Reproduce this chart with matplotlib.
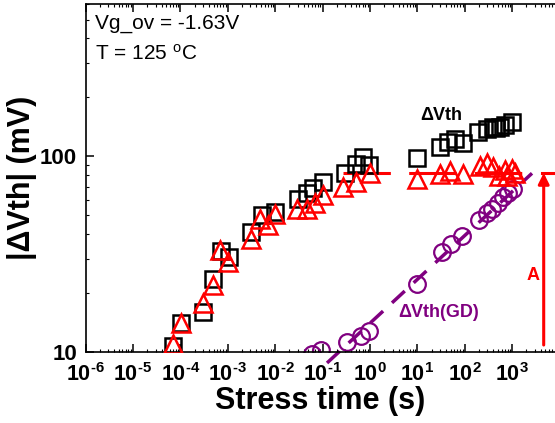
import math
import matplotlib
matplotlib.use("Agg")
import matplotlib.pyplot as plt
from matplotlib.ticker import LogLocator, FuncFormatter, NullFormatter

plt.rcParams['font.family'] = ['Liberation Sans', 'DejaVu Sans']
plt.rcParams['mathtext.fontset'] = 'custom'
plt.rcParams['mathtext.rm'] = 'Liberation Sans'
plt.rcParams['mathtext.bf'] = 'Liberation Sans:bold'
plt.rcParams['mathtext.it'] = 'Liberation Sans:italic'

# total dVth (black squares)
t_total = [7.0e-5, 1.03e-4, 3.0e-4, 4.94e-4, 7.1e-4, 1.08e-3, 3.04e-3, 5.19e-3, 9.9e-3,
           0.0307, 0.046, 0.0637, 0.1, 0.297, 0.507, 0.723, 0.97, 9.95, 30, 44.9, 62, 93,
           193, 290, 399, 460, 553, 705, 975]
v_total = [10.7, 14.1, 16.1, 23.5, 32.7, 30.6, 41.1, 50, 52,
           60.8, 65, 68.9, 74, 82.2, 91.8, 99.2, 90, 98.5, 111, 118, 122, 117,
           133, 138, 141, 140, 142, 144, 150]

# recoverable part (red triangles)
t_rec = [6.9e-5, 1.03e-4, 3.04e-4, 4.99e-4, 6.84e-4, 1.03e-3, 3.04e-3, 4.77e-3, 7.1e-3,
         9.9e-3, 0.0284, 0.046, 0.069, 0.1, 0.273, 0.507, 1.0, 9.8, 30, 48.7, 90,
         209, 290, 399, 535, 705, 765, 975, 1146]
v_rec = [11.0, 14.1, 17.7, 22.0, 33.3, 28.9, 38.0, 48.1, 44.5,
         51.0, 54.1, 54.1, 57.4, 63.2, 69.7, 74.0, 82.2, 76.4, 80.9, 84.1, 80.9,
         88.9, 92.5, 88.1, 79.1, 84.9, 79.1, 86.5, 81.7]

# GD component (purple circles)
t_gd = [0.0589, 0.0925, 0.322, 0.646, 0.975, 9.66, 32.6, 51.2, 89.4,
        204, 301, 369, 509, 649, 815, 1055]
v_gd = [9.77, 10.2, 11.2, 12.1, 12.8, 22.2, 32.5, 35.6, 39.1,
        47.4, 51.5, 54.1, 57.4, 61.9, 64.7, 67.9]

# fits
gd_fit_t = [0.124, 2618]
gd_fit_v = [8.79, 81.9]
sat_t = [0.27, 1700]
sat_v = [82.2, 82.2]
A_x = 4620
A_low = 10.86
A_high = 82.2

xmin, xmax = 1e-6, 10 ** 3.903
ymin, ymax = 10, 600

fig = plt.figure(figsize=(5.55, 4.23), dpi=100)
ax = fig.add_axes([0.1542, 0.1678, 0.8458, 0.8227])

ax.plot(gd_fit_t, gd_fit_v, color='#800080', lw=2.5, dashes=(5, 3.5), clip_on=False, zorder=1)
ax.plot(sat_t, sat_v, color='red', lw=2.2, dashes=(15.5, 6), zorder=1)

ax.plot(t_total, v_total, 's', ms=11.5, mfc='none', mec='black', mew=1.8, zorder=3)
ax.plot(t_rec, v_rec, '^', ms=12.5, mfc='none', mec='red', mew=1.8, zorder=4)
ax.plot(t_gd, v_gd, 'o', ms=12, mfc='none', mec='#800080', mew=1.6, zorder=2)

# arrow A
ax.annotate('', xy=(A_x, A_high), xytext=(A_x, A_low),
            arrowprops=dict(arrowstyle='-|>', color='red', lw=2.2, mutation_scale=16,
                            shrinkA=0, shrinkB=0))
ax.plot([A_x * 0.93, xmax], [A_high, A_high], color='red', lw=2.2, clip_on=False)
ax.text(2750, 24.7, 'A', color='red', fontsize=13, fontweight='bold', ha='center', va='center')

ax.text(31.5, 162, 'ΔVth', color='black', fontsize=13, fontweight='bold', ha='center', va='center')
ax.text(28.6, 16.0, 'ΔVth(GD)', color='#800080', fontsize=13, fontweight='bold',
        ha='center', va='center')

ax.text(0.02, 0.943, 'Vg_ov = -1.63V', transform=ax.transAxes, fontsize=15, va='center')
ax.text(0.02, 0.857, r'T = 125 $^{\mathrm{o}}$C', transform=ax.transAxes, fontsize=15, va='center')

ax.set_xscale('log')
ax.set_yscale('log')
ax.set_xlim(xmin, xmax)
ax.set_ylim(ymin, ymax)


def pow_label(v, pos):
    e = round(math.log10(v))
    s = str(e).replace('-', '\u2010')
    return r'$\mathbf{10^{%s}}$' % s


ax.xaxis.set_major_locator(LogLocator(base=10, numticks=20))
ax.xaxis.set_minor_locator(LogLocator(base=10, subs=range(2, 10), numticks=20))
ax.xaxis.set_major_formatter(FuncFormatter(pow_label))
ax.xaxis.set_minor_formatter(NullFormatter())
ax.yaxis.set_major_locator(LogLocator(base=10, numticks=10))
ax.yaxis.set_minor_locator(LogLocator(base=10, subs=range(2, 10), numticks=10))
ax.yaxis.set_major_formatter(FuncFormatter(lambda v, p: '%d' % round(v)))
ax.yaxis.set_minor_formatter(NullFormatter())

ax.tick_params(which='major', direction='in', length=6, width=1.1, top=True, labelsize=16)
ax.tick_params(which='minor', direction='in', length=2, width=0.8, top=True)
ax.tick_params(axis='x', which='major', labelsize=15.5, pad=8)
ax.tick_params(axis='y', which='major', pad=6)
for lab in ax.get_yticklabels():
    lab.set_fontweight('bold')

for s in ['left', 'bottom', 'top']:
    ax.spines[s].set_linewidth(1.2)
ax.spines['right'].set_visible(False)

ax.set_xlabel('Stress time (s)', fontsize=22, fontweight='bold', labelpad=0)
ax.set_ylabel('|ΔVth| (mV)', fontsize=22, fontweight='bold', labelpad=2)

fig.savefig('out.png', dpi=100)
